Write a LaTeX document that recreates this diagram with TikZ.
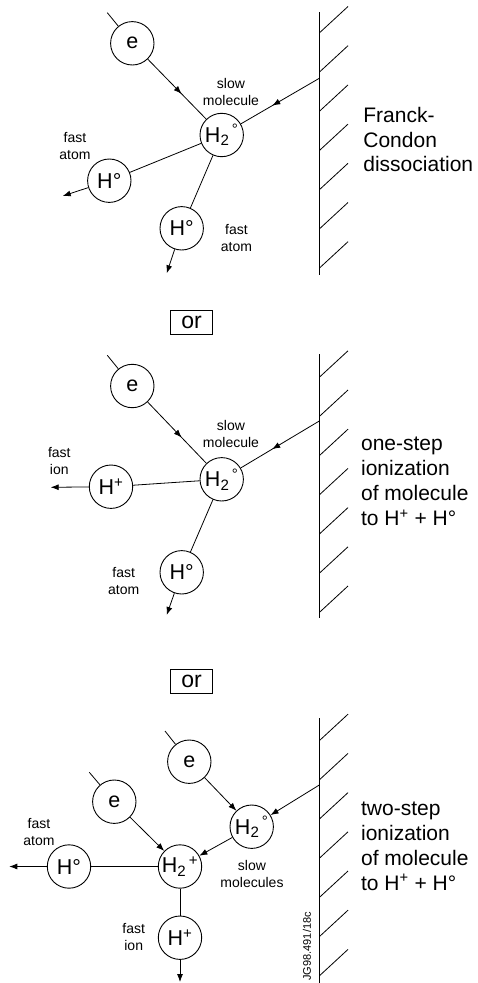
\documentclass[tikz,border=0pt]{standalone}
\usepackage{fontspec}
\setmainfont{Liberation Sans}
\usetikzlibrary{arrows.meta,decorations.markings}

% hatched wall: top, bottom, wall end of the first hatch
\newcommand\hatchwall[3]{%
  \draw (319.3,#1) -- (319.3,#2);
  \foreach \k in {0,...,6}
    \draw (319.3,{#3+39.2*\k}) -- (348,{#3+39.2*\k-26.5});
}

\begin{document}
\begin{tikzpicture}[x=1pt,y=-1pt,
  line width=0.8pt,
  particle/.style={draw,circle,minimum size=43.4pt,inner sep=0pt,
    line width=0.9pt,font=\fontsize{21.5}{24}\selectfont},
  tip/.style={-{Latex[length=8pt,width=6pt]}},
  midtip/.style={postaction={decorate},decoration={markings,
    mark=at position #1 with {\arrow{Latex[length=8pt,width=6pt]}}}},
  small/.style={font=\fontsize{14}{17}\selectfont,align=center,inner sep=0pt},
  big/.style={font=\fontsize{21}{24}\selectfont,anchor=base west,inner sep=0pt},
  orbox/.style={draw,line width=1pt,minimum width=41.6pt,minimum height=23.5pt,
    inner sep=0pt,font=\fontsize{23}{24}\selectfont}
]
\useasboundingbox (0,0) rectangle (477,983);

% ---------- Franck-Condon dissociation ----------
\hatchwall{12}{275}{33}
\node[particle] (e1) at (132.3,43.3) {e};
\node[particle] (m1) at (221.7,135) {H\textsubscript{2}\textsuperscript{\,°}};
\node[particle] (a1) at (109.3,180.7) {H°};
\node[particle] (b1) at (181.7,228.3) {H°};
\coordinate (e1in) at (107.3,12.7);
\coordinate (w1) at (319.3,78.3);
\coordinate (a1out) at (62.7,196);
\coordinate (b1out) at (166.7,273.3);
\draw (e1in) -- (e1);
\draw[midtip=0.58] (e1) -- (m1);
\draw[midtip=0.6] (w1) -- (m1);
\draw (m1) -- (a1);
\draw[tip] (a1) -- (a1out);
\draw (m1) -- (b1);
\draw[tip] (b1) -- (b1out);
\node[small] (s1) at (231,91.5) {slow\\molecule};
\node[small] (f1a) at (75,146) {fast\\atom};
\node[small] (f1b) at (236.5,237.5) {fast\\atom};
\node[big] (t1a) at (363,122.7) {Franck-};
\node[big] (t1b) at (363,147.2) {Condon};
\node[big] (t1c) at (363,171.7) {dissociation};

% ---------- first "or" ----------
\node[orbox] (or1) at (191.5,322.7) {or};

% ---------- one-step ionization ----------
\hatchwall{354}{618.3}{377.3}
\node[particle] (e2) at (132.3,386) {e};
\node[particle] (m2) at (221.7,479.3) {H\textsubscript{2}\textsuperscript{\,°}};
\node[particle] (p2) at (111,486.7) {H\textsuperscript{+}};
\node[particle] (b2) at (181.7,572.3) {H°};
\coordinate (e2in) at (107.3,355.3);
\coordinate (w2) at (319.3,421);
\coordinate (p2out) at (50.7,487.3);
\coordinate (b2out) at (166.7,615);
\draw (e2in) -- (e2);
\draw[midtip=0.58] (e2) -- (m2);
\draw[midtip=0.6] (w2) -- (m2);
\draw (m2) -- (p2);
\draw[tip] (p2) -- (p2out);
\draw (m2) -- (b2);
\draw[tip] (b2) -- (b2out);
\node[small] (s2) at (231,433.8) {slow\\molecule};
\node[small] (f2a) at (59.3,460.7) {fast\\ion};
\node[small] (f2b) at (123.7,580.7) {fast\\atom};
\node[big] (t2a) at (360.7,450.7) {one-step};
\node[big] (t2b) at (360.7,475.7) {ionization};
\node[big] (t2c) at (360.7,500.7) {of molecule};
\node[big] (t2d) at (360.7,525.7) {to H\textsuperscript{+} + H°};

% ---------- second "or" ----------
\node[orbox] (or2) at (191.5,681.3) {or};

% ---------- two-step ionization ----------
\hatchwall{718.3}{983}{740.7}
\node[particle] (e3) at (189.3,761.7) {e};
\node[particle] (m3) at (251.7,826.7) {H\textsubscript{2}\textsuperscript{\,°}};
\node[particle] (e4) at (114.3,801.7) {e};
\node[particle] (q3) at (180,866.5) {H\textsubscript{2}\textsuperscript{\,+}};
\node[particle] (a3) at (69,866.5) {H°};
\node[particle] (p3) at (180,937.7) {H\textsuperscript{+}};
\coordinate (e3in) at (165,731);
\coordinate (e4in) at (89.3,772.3);
\coordinate (w3) at (319.3,785);
\coordinate (a3out) at (9.3,866.5);
\coordinate (p3out) at (180,982);
\draw (e3in) -- (e3);
\draw (e4in) -- (e4);
\draw[tip] (e3) -- (m3);
\draw[tip] (w3) -- (m3);
\draw[tip] (m3) -- (q3);
\draw[tip] (e4) -- (q3);
\draw (q3) -- (a3);
\draw[tip] (a3) -- (a3out);
\draw (q3) -- (p3);
\draw[tip] (p3) -- (p3out);
\node[small] (s3) at (252,874) {slow\\molecules};
\node[small] (f3a) at (39,832) {fast\\atom};
\node[small] (f3b) at (133.7,937.2) {fast\\ion};
\node[big] (t3a) at (360.7,815) {two-step};
\node[big] (t3b) at (360.7,840) {ionization};
\node[big] (t3c) at (360.7,865) {of molecule};
\node[big] (t3d) at (360.7,890) {to H\textsuperscript{+} + H°};
\node[rotate=90,anchor=west,inner sep=0pt,font=\fontsize{11}{12}\selectfont]
  (ref) at (307,981) {JG98.491/18c};
\end{tikzpicture}
\end{document}
